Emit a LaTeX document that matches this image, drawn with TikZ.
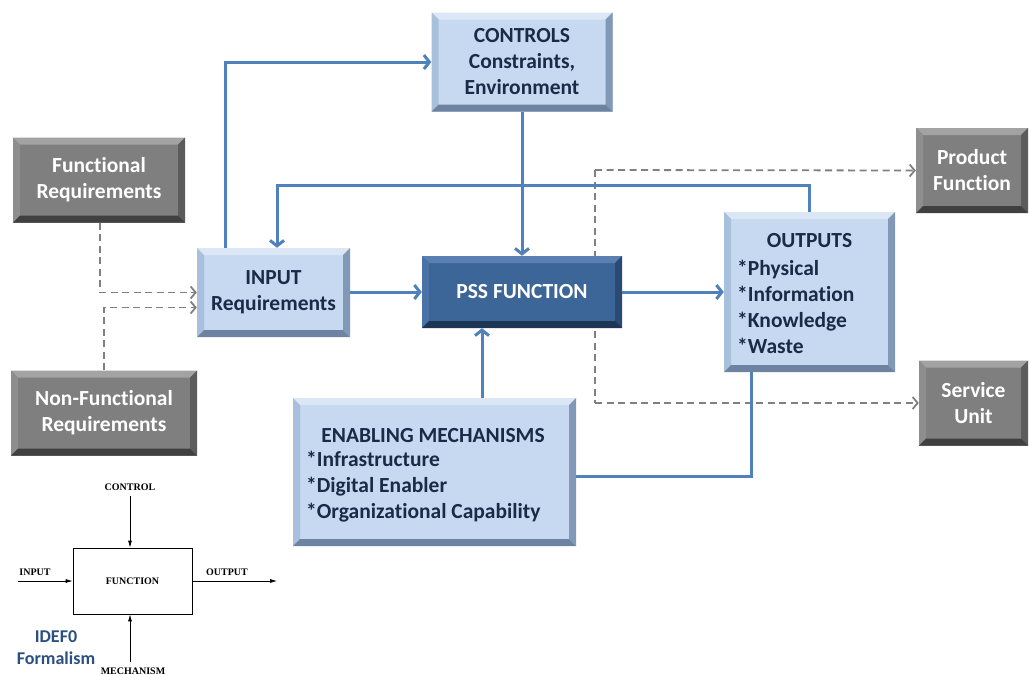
\documentclass[tikz,border=0pt]{standalone}
\usepackage{fontspec}
\setmainfont{Carlito}[Ligatures=NoCommon]
\newfontfamily\tmsfont{Liberation Serif}
\usetikzlibrary{arrows.meta}
\definecolor{lb}{HTML}{C6D9F1}
\definecolor{lbhi}{HTML}{DCE7F5}
\definecolor{lbmid}{HTML}{A9C0DD}
\definecolor{lblo}{HTML}{8198B6}
\definecolor{lbbot}{HTML}{6D83A1}
\definecolor{gfill}{HTML}{7F7F7F}
\definecolor{ghi}{HTML}{A3A3A3}
\definecolor{gmid}{HTML}{8E8E8E}
\definecolor{glo}{HTML}{5C5C5C}
\definecolor{gbot}{HTML}{404040}
\definecolor{dfill}{HTML}{3C6598}
\definecolor{dhi}{HTML}{5A80B2}
\definecolor{dmid}{HTML}{4A72A6}
\definecolor{dlo}{HTML}{2A4A74}
\definecolor{dbot}{HTML}{1E3656}
\definecolor{txt}{HTML}{1B2A47}
\definecolor{conn}{HTML}{4F81BD}
\definecolor{dsh}{HTML}{808080}
\definecolor{idef}{HTML}{2B4F81}
\newcommand{\bvw}{7pt}
\newcommand{\boxfont}{\bfseries\fontsize{21.5}{26}\selectfont}
\tikzset{
  bevel/.style n args={5}{fill=#1, path picture={
    \coordinate (bnw) at (path picture bounding box.north west);
    \coordinate (bne) at (path picture bounding box.north east);
    \coordinate (bsw) at (path picture bounding box.south west);
    \coordinate (bse) at (path picture bounding box.south east);
    \fill[#2] (bnw) -- (bne) -- ([shift={(-\bvw,-\bvw)}]bne) -- ([shift={(\bvw,-\bvw)}]bnw) -- cycle;
    \fill[#3] (bnw) -- ([shift={(\bvw,-\bvw)}]bnw) -- ([shift={(\bvw,\bvw)}]bsw) -- (bsw) -- cycle;
    \fill[#4] (bne) -- (bse) -- ([shift={(-\bvw,\bvw)}]bse) -- ([shift={(-\bvw,-\bvw)}]bne) -- cycle;
    \fill[#5] (bsw) -- (bse) -- ([shift={(-\bvw,\bvw)}]bse) -- ([shift={(\bvw,\bvw)}]bsw) -- cycle;
  }},
  lightbox/.style={bevel={lb}{lbhi}{lbmid}{lblo}{lbbot}, text=txt, align=center, inner sep=0pt, font=\boxfont},
  graybox/.style={bevel={gfill}{ghi}{gmid}{glo}{gbot}, text=white, align=center, inner sep=0pt, font=\boxfont},
  darkbox/.style={bevel={dfill}{dhi}{dmid}{dlo}{dbot}, text=white, align=center, inner sep=0pt, font=\boxfont},
  plain/.style={text=txt, align=left, inner sep=0pt, font=\boxfont},
  flow/.style={draw=conn, line width=3pt, -{Straight Barb[length=5.5pt,width=14pt]}},
  flowline/.style={draw=conn, line width=3pt},
  dline/.style={draw=dsh, line width=1.8pt, dash pattern=on 7pt off 4.5pt},
  darr/.style={dline, -{Straight Barb[length=5pt,width=12pt]}},
  idlabel/.style={inner sep=0pt, font=\tmsfont\bfseries\fontsize{10}{12}\selectfont},
  idarr/.style={draw=black, line width=0.7pt, -{Latex[length=7pt,width=4pt]}},
}
\begin{document}
\begin{tikzpicture}[x=1pt,y=-1pt]
\useasboundingbox[fill=white] (0,0) rectangle (1029,675);
% dashed line behind PSS box
\coordinate (dtop) at (595,170);
\coordinate (dbotc) at (595,403);
\draw[dline] (dtop) -- (dbotc);

% nodes
\node[lightbox, minimum width=181pt, minimum height=99pt] (ctrl) at (522,62) {CONTROLS\\Constraints,\\Environment};
\node[graybox, minimum width=172pt, minimum height=85pt] (fr) at (99,180) {Functional\\Requirements};
\node[graybox, minimum width=186pt, minimum height=85pt] (nf) at (104,413) {Non-Functional\\Requirements};
\node[lightbox, minimum width=153pt, minimum height=89pt] (inp) at (273.5,292.5) {INPUT\\Requirements};
\node[darkbox, minimum width=200pt, minimum height=72pt] (pss) at (522,292) {PSS FUNCTION};
\node[lightbox, minimum width=171pt, minimum height=160pt] (out) at (809.5,292) {};
\node[plain, align=center] (outh) at (809.5,241) {OUTPUTS};
\node[plain, anchor=west] (outl) at (737,307) {*Physical\\*Information\\*Knowledge\\*Waste};
\node[graybox, minimum width=112pt, minimum height=85pt] (pf) at (972,170.5) {Product\\Function};
\node[graybox, minimum width=109pt, minimum height=85pt] (su) at (973.5,403) {Service\\Unit};
\node[lightbox, minimum width=283pt, minimum height=148pt] (en) at (434.5,472) {};
\node[plain, align=center] (enh) at (433,435.5) {ENABLING MECHANISMS};
\node[plain, anchor=west] (enl) at (306,487) {*Infrastructure\\*Digital Enabler\\*Organizational Capability};

% dashed connectors
\draw[darr] (dtop) -- (pf.west);
\draw[darr] (dbotc) -- (su.west);
\draw[darr] ([xshift=1pt]fr.south) |- (inp.west);
\draw[darr] (nf.north) |- ([yshift=-15pt]inp.west);

% blue connectors
\draw[flow] ([xshift=-48.5pt]inp.north) |- (ctrl.west);
\draw[flow] (ctrl.south) -- (pss.north);
\coordinate (fbk) at (0,185);
\draw[flow] (out.north) -- (out.north |- fbk) -| ([xshift=3.5pt]inp.north);
\draw[flow] (inp.east |- pss.west) -- (pss.west);
\draw[flow] (pss.east) -- (out.west);
\draw[flow] ([xshift=47.5pt]en.north) -- ([xshift=47.5pt]en.north |- pss.south);
\coordinate (enr) at (0,476);
\draw[flowline] (en.east |- enr) -| ([xshift=-58.5pt]out.south);

% IDEF0 formalism
\node[draw=black, line width=0.7pt, minimum width=119pt, minimum height=66pt, inner sep=0pt,
      font=\tmsfont\bfseries\fontsize{10}{12}\selectfont] (idbox) at (132.5,581) {FUNCTION};
\node[idlabel] (idc) at (130,487) {CONTROL};
\node[idlabel] (idi) at (35,572) {INPUT};
\node[idlabel] (ido) at (227,572) {OUTPUT};
\node[idlabel] (idm) at (133,671) {MECHANISM};
\coordinate (idcs) at (130,496);
\coordinate (idis) at (18,581);
\coordinate (idoe) at (277,581);
\coordinate (idms) at (130,662);
\draw[idarr] (idcs) -- (idcs |- idbox.north);
\draw[idarr] (idis) -- (idbox.west);
\draw[idarr] (idbox.east) -- (idoe);
\draw[idarr] (idms) -- (idms |- idbox.south);
\node[text=idef, align=center, inner sep=0pt, font=\bfseries\fontsize{18}{21.5}\selectfont] (idf) at (56,647.5) {IDEF0\\Formalism};
\end{tikzpicture}
\end{document}
